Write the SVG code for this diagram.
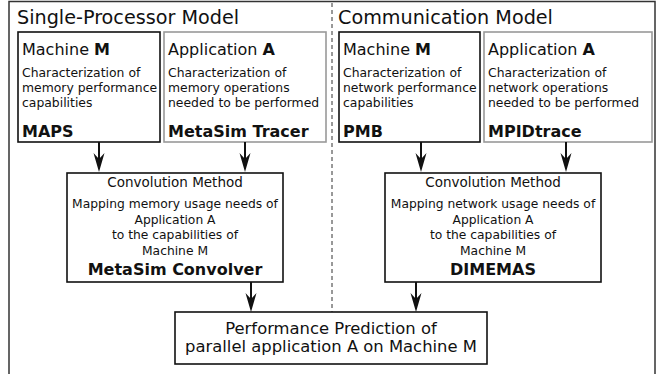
<svg xmlns="http://www.w3.org/2000/svg" width="657" height="374" viewBox="0 0 657 374">
<defs>
<style>
text{font-family:"DejaVu Sans","Liberation Sans",sans-serif;fill:#111}
.title{font-size:19.2px}
.head{font-size:16px}
.b{font-weight:bold}
.desc{font-size:12.4px}
.conv{font-size:13.5px}
.map{font-size:12.3px}
.tool{font-size:16px;font-weight:bold}
.pred{font-size:16.4px}
.boxk{fill:#fff;stroke:#111;stroke-width:1.6}
.boxg{fill:#fff;stroke:#999;stroke-width:1.6}
.arrow{stroke:#111;stroke-width:2;fill:none;marker-end:url(#ah)}
.mid{text-anchor:middle}
</style>
<marker id="ah" markerUnits="userSpaceOnUse" markerWidth="22" markerHeight="14" viewBox="-20 -7 22 14" refX="-12" refY="0" orient="auto">
<path d="M0,0 L-19,-5.5 L-13,0 L-19,5.5 Z" fill="#111"/>
</marker>
</defs>
<rect x="9" y="1.5" width="646" height="400" fill="#fff" stroke="#333" stroke-width="1.5"/>
<line x1="332" y1="3" x2="332" y2="312" stroke="#333" stroke-width="1" stroke-dasharray="4,3"/>
<text class="title" x="17" y="24">Single-Processor Model</text>
<text class="title" x="338" y="24">Communication Model</text>

<g id="machine-left">
<rect class="boxk" x="18" y="32" width="142" height="110"/>
<text class="head" x="22" y="55">Machine <tspan class="b">M</tspan></text>
<text class="desc" x="22" y="76.5">Characterization of</text>
<text class="desc" x="22" y="91.5">memory performance</text>
<text class="desc" x="22" y="106.5">capabilities</text>
<text class="tool" x="22" y="137">MAPS</text>
</g>
<g id="app-left">
<rect class="boxg" x="164" y="32" width="162" height="110"/>
<text class="head" x="168" y="55">Application <tspan class="b">A</tspan></text>
<text class="desc" x="168" y="76.5">Characterization of</text>
<text class="desc" x="168" y="91.5">memory operations</text>
<text class="desc" x="168" y="106.5">needed to be performed</text>
<text class="tool" x="168" y="137">MetaSim Tracer</text>
</g>
<g id="machine-right">
<rect class="boxk" x="339" y="32" width="141" height="110"/>
<text class="head" x="343" y="55">Machine <tspan class="b">M</tspan></text>
<text class="desc" x="343" y="76.5">Characterization of</text>
<text class="desc" x="343" y="91.5">network performance</text>
<text class="desc" x="343" y="106.5">capabilities</text>
<text class="tool" x="343" y="137">PMB</text>
</g>
<g id="app-right">
<rect class="boxg" x="484" y="32" width="168" height="110"/>
<text class="head" x="488" y="55">Application <tspan class="b">A</tspan></text>
<text class="desc" x="488" y="76.5">Characterization of</text>
<text class="desc" x="488" y="91.5">network operations</text>
<text class="desc" x="488" y="106.5">needed to be performed</text>
<text class="tool" x="488" y="137">MPIDtrace</text>
</g>
<g id="conv-left">
<rect class="boxk" x="67" y="173" width="216" height="109"/>
<text class="conv mid" x="175" y="187">Convolution Method</text>
<text class="map mid" x="175" y="208">Mapping memory usage needs of</text>
<text class="map mid" x="175" y="223.5">Application A</text>
<text class="map mid" x="175" y="239">to the capabilities of</text>
<text class="map mid" x="175" y="254.5">Machine M</text>
<text class="tool mid" x="175" y="275">MetaSim Convolver</text>
</g>
<g id="conv-right">
<rect class="boxk" x="385" y="173" width="216" height="109"/>
<text class="conv mid" x="493" y="187">Convolution Method</text>
<text class="map mid" x="493" y="208">Mapping network usage needs of</text>
<text class="map mid" x="493" y="223.5">Application A</text>
<text class="map mid" x="493" y="239">to the capabilities of</text>
<text class="map mid" x="493" y="254.5">Machine M</text>
<text class="tool mid" x="493" y="275">DIMEMAS</text>
</g>
<g id="prediction">
<rect class="boxk" x="175" y="312" width="312" height="52"/>
<text class="pred mid" x="331" y="334">Performance Prediction of</text>
<text class="pred mid" x="331" y="352">parallel application A on Machine M</text>
</g>
<g id="connectors">
<line class="arrow" x1="99" y1="142" x2="99" y2="160"/>
<line class="arrow" x1="245" y1="142" x2="245" y2="160"/>
<line class="arrow" x1="421" y1="142" x2="421" y2="160"/>
<line class="arrow" x1="566" y1="142" x2="566" y2="160"/>
<line class="arrow" x1="251" y1="282" x2="251" y2="300"/>
<line class="arrow" x1="416" y1="282" x2="416" y2="300"/>
</g>
</svg>
